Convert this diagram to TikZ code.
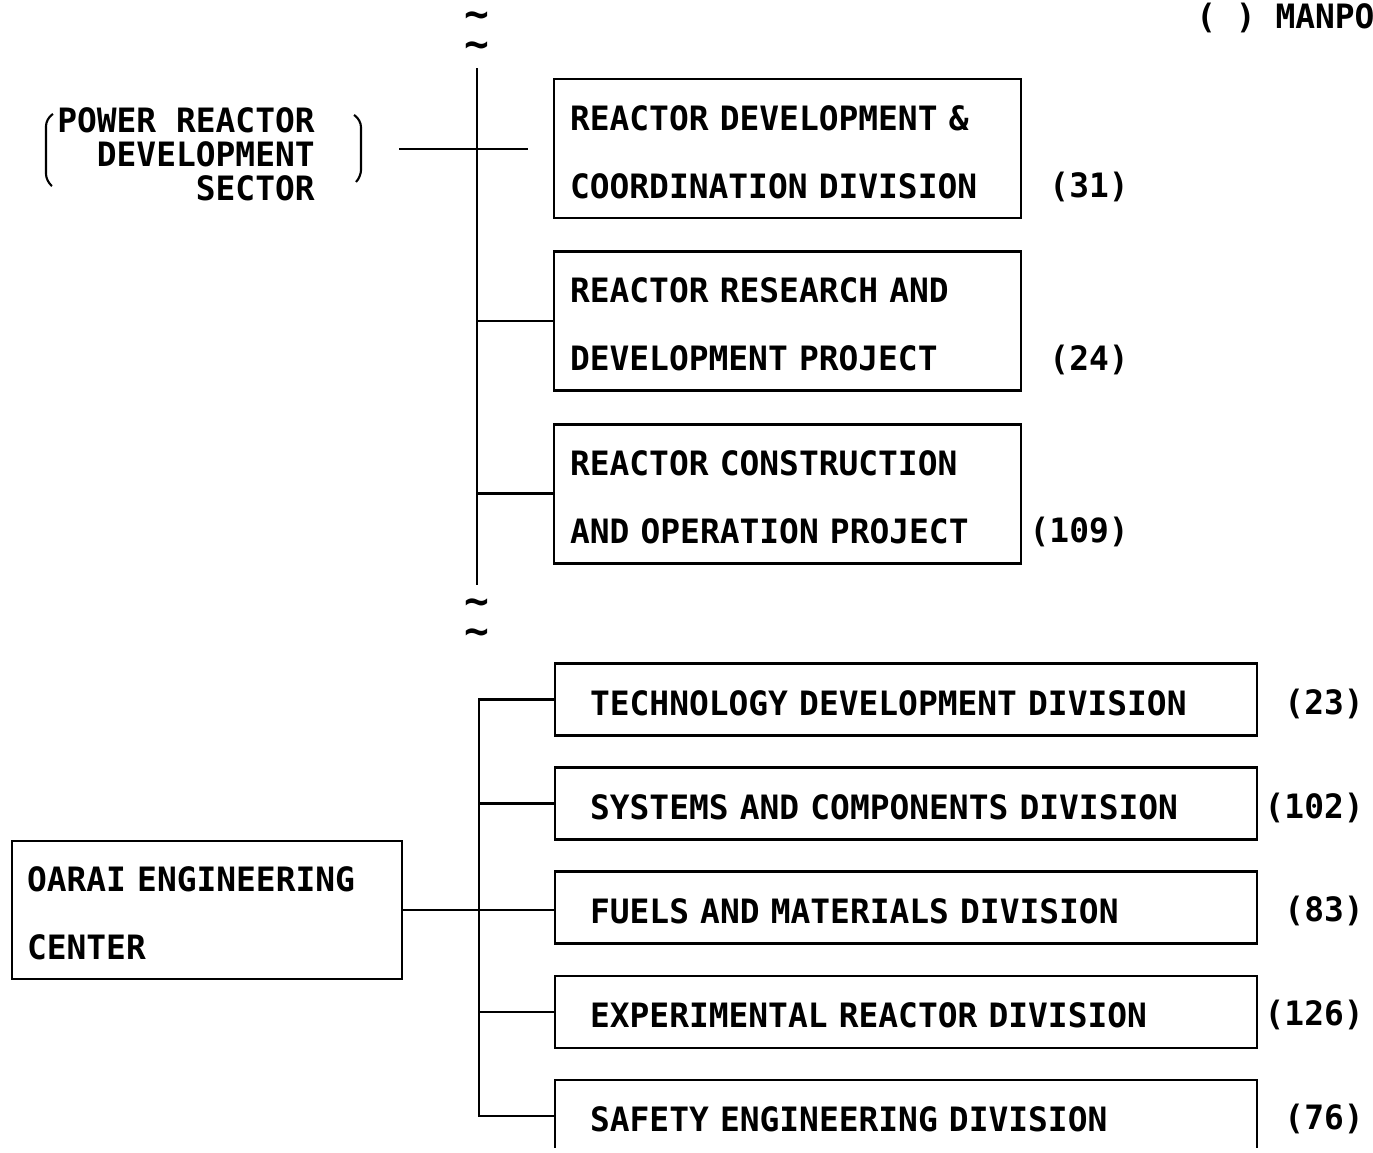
\documentclass[tikz,border=0pt]{standalone}
\usepackage{fontspec}
\setmonofont[FakeStretch=0.98]{DejaVu Sans Mono}
\usetikzlibrary{positioning}

\begin{document}
\begin{tikzpicture}[x=0.02cm, y=-0.02cm, line width=1.5pt,
	every node/.style={font=\ttfamily\bfseries\fontsize{19.1}{38.7}\selectfont},
	proj/.style={rectangle, draw=black, align=left, text width=8.7cm, inner xsep=0.32cm, minimum height=2.78cm, execute at begin node={\rule{0pt}{18pt}}},
	div/.style={rectangle, draw=black, align=left, text width=12.64cm, inner xsep=0.7cm, minimum height=1.44cm, execute at begin node={\rule{0pt}{18pt}}},
	staff/.style={anchor=east, inner sep=0pt},
	plain/.style={inner sep=0pt},
	brk/.style={plain, anchor=north, align=center, font=\ttfamily\bfseries\fontsize{24}{17.6}\selectfont}
	]
	\useasboundingbox (0,0) rectangle (1373,1153);
	\clip (0,0) rectangle (1373,1147);

		\node (legend) [plain, anchor=west] at (1195,18) {( ) MANPOWER};

		% power reactor development sector
		\node (sector) [plain, anchor=east, align=right, font=\ttfamily\bfseries\fontsize{19.1}{19.35}\selectfont] at (316,154) {POWER REACTOR\\DEVELOPMENT\\SECTOR};
		\draw [line width=1.2pt, rounded corners=4pt] (53,114) -- (46,119) -- (46,181) -- (52,186);
		\draw [line width=1.2pt, rounded corners=4pt] (354,115) -- (361,120) -- (361,177) -- (356,182);

		% break marks
		\node (breaktop) [brk] at (477,10) {\textasciitilde\\\textasciitilde};
		\node (breakmid) [brk] at (477,597) {\textasciitilde\\\textasciitilde};

		\node (rdcd) [proj] at (787.5,148.5) {REACTOR DEVELOPMENT \&\\COORDINATION DIVISION};
			\node (rrdp) [proj, below=0.62cm of rdcd] {REACTOR RESEARCH AND\\DEVELOPMENT PROJECT};
			\node (rcop) [proj, below=0.62cm of rrdp] {REACTOR CONSTRUCTION\\AND OPERATION PROJECT};

		\node (n31) [staff] at (1130,187) {(31)};
		\node (n24) [staff] at (1130,360) {(24)};
		\node (n109) [staff] at (1130,532) {(109)};

		% oarai engineering center
		\node (oarai) [rectangle, draw=black, align=left, text width=7.2cm, inner xsep=0.3cm, minimum height=2.76cm, execute at begin node={\rule{0pt}{18pt}}] at (207,910) {OARAI ENGINEERING\\CENTER};

		\node (techdiv) [div] at (906,699.5) {TECHNOLOGY DEVELOPMENT DIVISION};
			\node (sysdiv) [div, below=0.59cm of techdiv] {SYSTEMS AND COMPONENTS DIVISION};
			\node (fueldiv) [div, below=0.59cm of sysdiv] {FUELS AND MATERIALS DIVISION};
			\node (expdiv) [div, below=0.59cm of fueldiv] {EXPERIMENTAL REACTOR DIVISION};
			\node (safediv) [div, below=0.59cm of expdiv] {SAFETY ENGINEERING DIVISION};

		\node (n23) [staff] at (1365,704) {(23)};
		\node (n102) [staff] at (1365,808) {(102)};
		\node (n83) [staff] at (1365,911) {(83)};
		\node (n126) [staff] at (1365,1015) {(126)};
		\node (n76) [staff] at (1365,1119) {(76)};

	\coordinate (ptop) at (477,68);
	\coordinate (pbot) at (477,585);
	\coordinate (secl) at (399,149);
	\coordinate (secr) at (528,149);
	\coordinate (otrunk) at (479,0);

	\draw (ptop) -- (pbot);
	\draw (secl) -- (secr);
	\draw (rrdp.west) -- (rrdp.west -| ptop);
	\draw (rcop.west) -- (rcop.west -| ptop);

	\draw (techdiv.west) -- (techdiv.west -| otrunk) -- (safediv.west -| otrunk) -- (safediv.west);
	\draw (sysdiv.west) -- (sysdiv.west -| otrunk);
	\draw (expdiv.west) -- (expdiv.west -| otrunk);
	\draw (oarai.east) -- (oarai.east -| fueldiv.west);

\end{tikzpicture}
\end{document}
